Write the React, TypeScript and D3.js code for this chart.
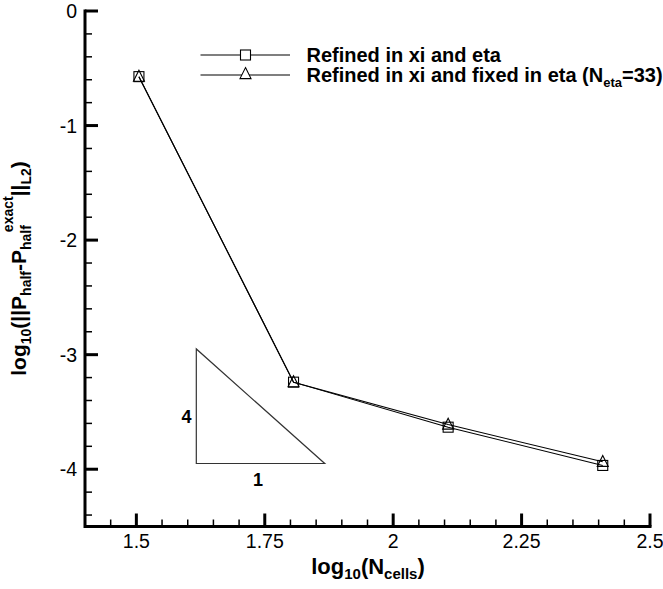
import React from "react";
import * as d3 from "d3";

const xValues = [1.505, 1.806, 2.107, 2.408];
const seriesSquare = [-0.573, -3.24, -3.633, -3.967];
const seriesTriangle = [-0.573, -3.24, -3.61, -3.935];
const xTickLabels = ["1.5", "1.75", "2", "2.25", "2.5"];
const xTickValues = [1.5, 1.75, 2, 2.25, 2.5];
const yTickLabels = ["0", "-1", "-2", "-3", "-4"];
const yTickValues = [0, -1, -2, -3, -4];
const legendLabels = ["Refined in xi and eta", "Refined in xi and fixed in eta"];
const slopeTriX = [1.6167, 1.8667];
const slopeTriY = [-3.95, -2.95];

const W = 663;
const H = 589;
const left = 85;
const right = 650;
const top = 11;
const bottom = 526.5;
const FONT = "'Liberation Sans', Arial, Helvetica, sans-serif";

export default function App() {
  const x = d3.scaleLinear().domain([1.4, 2.5]).range([left, right]);
  const y = d3.scaleLinear().domain([-4.5, 0]).range([bottom, top]);

  const xMinor = d3.range(1.45, 2.5001, 0.05).filter(
    (v) => !xTickValues.some((t) => Math.abs(t - v) < 1e-6)
  );
  const yMinor = d3.range(-4.4, -0.0001, 0.2).filter(
    (v) => !yTickValues.some((t) => Math.abs(t - v) < 1e-6)
  );

  const line = d3
    .line<[number, number]>()
    .x((d) => x(d[0]))
    .y((d) => y(d[1]));

  const sqPts: [number, number][] = xValues.map((v, i) => [v, seriesSquare[i]]);
  const trPts: [number, number][] = xValues.map((v, i) => [v, seriesTriangle[i]]);

  const sq = 10;
  const triPath = (cx: number, cy: number, s = 11) =>
    `M${cx},${cy - s * 0.58}L${cx + s / 2},${cy + s * 0.42}L${cx - s / 2},${cy + s * 0.42}Z`;

  const tri = d3.line<[number, number]>().x((d) => x(d[0])).y((d) => y(d[1]));
  const slopeTri: [number, number][] = [
    [slopeTriX[0], slopeTriY[1]],
    [slopeTriX[0], slopeTriY[0]],
    [slopeTriX[1], slopeTriY[0]],
  ];

  const legY = [55, 75];

  return (
    <svg
      width={W}
      height={H}
      style={{ position: "absolute", left: 0, top: 0, background: "#fff" }}
      fontFamily={FONT}
    >
      <rect width={W} height={H} fill="#fff" />
      {/* slope triangle */}
      <path d={tri(slopeTri)! + "Z"} fill="none" stroke="#333" strokeWidth={1.2} />
      <text x={186.5} y={423} fontSize={18} fontWeight="bold" textAnchor="middle">4</text>
      <text x={258} y={486} fontSize={18} fontWeight="bold" textAnchor="middle">1</text>

      {/* series */}
      <path d={line(sqPts)!} fill="none" stroke="#000" strokeWidth={1.1} />
      <path d={line(trPts)!} fill="none" stroke="#000" strokeWidth={1.1} />
      {sqPts.map((p, i) => (
        <rect
          key={"s" + i}
          x={x(p[0]) - sq / 2}
          y={y(p[1]) - sq / 2}
          width={sq}
          height={sq}
          fill="none"
          stroke="#000"
          strokeWidth={1.1}
        />
      ))}
      {trPts.map((p, i) => (
        <path key={"t" + i} d={triPath(x(p[0]), y(p[1]))} fill="none" stroke="#000" strokeWidth={1.1} />
      ))}

      {/* axes */}
      <line x1={left} x2={right + 1.5} y1={bottom} y2={bottom} stroke="#000" strokeWidth={3} />
      <line x1={left} x2={left} y1={top - 1.5} y2={bottom + 1.5} stroke="#000" strokeWidth={3} />
      {xTickValues.map((v, i) => (
        <g key={"xt" + i}>
          <line x1={x(v)} x2={x(v)} y1={bottom} y2={bottom - 13} stroke="#000" strokeWidth={3} />
          <text x={x(v)} y={547.5} fontSize={19.5} textAnchor="middle">{xTickLabels[i]}</text>
        </g>
      ))}
      {xMinor.map((v, i) => (
        <line key={"xm" + i} x1={x(v)} x2={x(v)} y1={bottom} y2={bottom - 7} stroke="#000" strokeWidth={1.5} />
      ))}
      {yTickValues.map((v, i) => (
        <g key={"yt" + i}>
          <line x1={left} x2={left + 13} y1={y(v)} y2={y(v)} stroke="#000" strokeWidth={3} />
          <text x={77} y={y(v) + 7} fontSize={19.5} textAnchor="end">{yTickLabels[i]}</text>
        </g>
      ))}
      {yMinor.map((v, i) => (
        <line key={"ym" + i} x1={left} x2={left + 7} y1={y(v)} y2={y(v)} stroke="#000" strokeWidth={1.5} />
      ))}

      {/* legend */}
      {legY.map((ly, i) => (
        <g key={"lg" + i}>
          <line x1={200.5} x2={290} y1={ly} y2={ly} stroke="#000" strokeWidth={1.1} />
          {i === 0 ? (
            <rect x={245.5 - 5} y={ly - 5} width={10} height={10} fill="#fff" stroke="#000" strokeWidth={1.1} />
          ) : (
            <path d={triPath(245.5, ly - 1, 11)} fill="#fff" stroke="#000" strokeWidth={1.1} />
          )}
          <text x={306.5} y={ly + 7} fontSize={20} fontWeight="bold">
            {legendLabels[i]}
            {i === 1 ? (
              <>
                <tspan> (N</tspan>
                <tspan fontSize={13} dy={5}>eta</tspan>
                <tspan dy={-5}>=33)</tspan>
              </>
            ) : null}
          </text>
        </g>
      ))}

      {/* x label */}
      <text x={368} y={574} fontSize={22} fontWeight="bold" textAnchor="middle">
        log<tspan fontSize={15} dy={5}>10</tspan>
        <tspan dy={-5}>(N</tspan>
        <tspan fontSize={15} dy={5}>cells</tspan>
        <tspan dy={-5}>)</tspan>
      </text>

      {/* y label */}
      <text
        transform={`translate(26,268.5) rotate(-90)`}
        fontSize={21}
        fontWeight="bold"
        textAnchor="middle"
      >
        log<tspan fontSize={14} dy={5}>10</tspan>
        <tspan dy={-5}>(||P</tspan>
        <tspan fontSize={14} dy={5}>half</tspan>
        <tspan dy={-5}>-P</tspan>
        <tspan fontSize={14} dy={5}>half</tspan>
        <tspan fontSize={14} dx={-7} dy={-18}>exact</tspan>
        <tspan dy={13}>||</tspan>
        <tspan fontSize={14} dy={5}>L2</tspan>
        <tspan dy={-5}>)</tspan>
      </text>
    </svg>
  );
}
